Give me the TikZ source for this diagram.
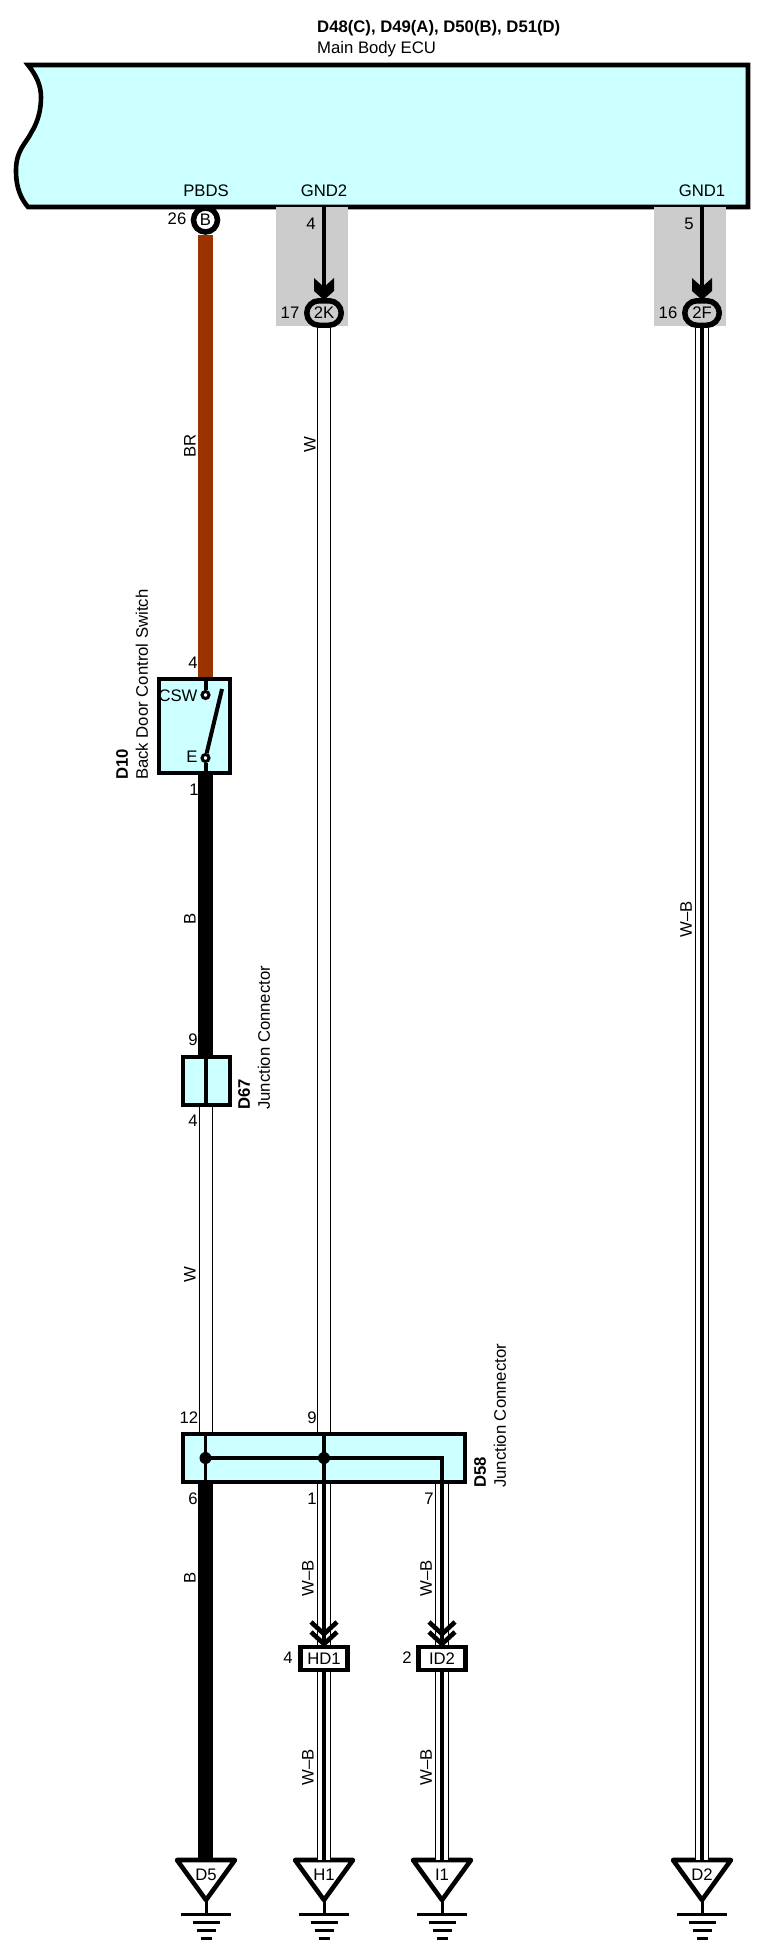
\documentclass[tikz,border=0pt]{standalone}
\usepackage{fontspec}
\setmainfont{Liberation Sans}
\usetikzlibrary{shapes.misc}

\definecolor{ecucyan}{HTML}{CCFFFF}
\definecolor{wirebrown}{HTML}{993300}
\definecolor{shadegray}{HTML}{CCCCCC}

\tikzset{
    every node/.style={font=\fontsize{16.7}{18}\selectfont, inner sep=0pt},
    frame/.style={draw, line width=4.6pt, line join=miter},
    cyanbox/.style={frame, fill=ecucyan, rectangle},
    tagbox/.style={frame, fill=white, rectangle, minimum width=47.5pt, minimum height=23pt},
    oval/.style={frame, line width=5.5pt, fill=shadegray, rounded rectangle, minimum width=34.5pt, minimum height=24.5pt},
    thick wire/.style={line width=15pt},
    thin wire/.style={line width=4pt},
    wirew/.style={line width=14pt, postaction={draw, white, line width=12pt}},
    wirewb/.style={wirew, postaction={draw, black, line width=4pt}},
    inner line/.style={line width=3.5pt},
    sidetext/.style={rotate=90, anchor=west},
    wirename/.style={rotate=90}
}

\begin{document}
\begin{tikzpicture}[x=1pt, y=-1pt]

    \useasboundingbox (0,0) rectangle (762,1953);

    % Main body ECU
    \draw[frame, fill=ecucyan] (28,65) -- (748,65) -- (748,207) -- (28,207)
    .. controls (17,194) and (16,180) .. (16,170)
    .. controls (16,150) and (27,142) .. (31,133)
    .. controls (38,122) and (41,110) .. (41,97)
    .. controls (41,85) and (36,75) .. (28,65) -- cycle;
    \node[anchor=west, font=\fontsize{16.7}{18}\selectfont\bfseries] (ecuid) at (317,28) {D48(C), D49(A), D50(B), D51(D)};
    \node[anchor=west] (ecuname) at (317,49) {Main Body ECU};
    \node (pbds) at (206,191) {PBDS};
    \node (gndtwo) at (324,191) {GND2};
    \node (gndone) at (702,191) {GND1};

    % Shaded in-line connectors
    \fill[shadegray] (276,207) rectangle (348,326);
    \fill[shadegray] (654,207) rectangle (726,326);
    \coordinate (ecugndtwo) at (324,207);
    \coordinate (ecugndone) at (702,207);
    \node[oval] (conk) at (324,313) {2K};
    \node[oval] (conf) at (702,313) {2F};
    \node (pinfour) at (311,224) {4};
    \node (pinfive) at (689,224) {5};
    \node (pinseventeen) at (290,313) {17};
    \node (pinsixteen) at (668,313) {16};

    % Pin B
    \node[frame, line width=5.5pt, circle, fill=white, minimum size=24pt] (conb) at (205.5,220) {B};
    \node (pinsix) at (177,219) {26};

    % Back door control switch
    \node[cyanbox, minimum width=71pt, minimum height=94pt] (swbox) at (194.5,726) {};
    \node[draw, circle, fill=white, line width=3pt, minimum size=7pt] (csw) at (205.5,695) {};
    \node[draw, circle, fill=white, line width=3pt, minimum size=7pt] (gnde) at (205.5,758) {};
    \node (cswname) at (178,696) {CSW};
    \node (ename) at (192,757) {E};
    \node (swfour) at (193,663) {4};
    \node (swone) at (194,790) {1};
    \node[sidetext, font=\fontsize{16.7}{18}\selectfont\bfseries] (swid) at (122,780) {D10};
    \node[sidetext] (swname) at (142,780) {Back Door Control Switch};
    \draw[line width=4pt] (gnde) -- (222,689);
    \draw[line width=4pt] (csw) -- (csw |- swbox.north);
    \draw[line width=4pt] (gnde) -- (gnde |- swbox.south);

    % Junction connector D67
    \node[cyanbox, minimum width=47pt, minimum height=48pt] (jd) at (206.5,1081) {};
    \draw[line width=4pt] (205.5,1057) -- (205.5,1105);
    \node (jdnine) at (193,1040) {9};
    \node (jdfour) at (193,1121) {4};
    \node[sidetext, font=\fontsize{16.7}{18}\selectfont\bfseries] (jdid) at (244,1110) {D67};
    \node[sidetext] (jdname) at (264,1110) {Junction Connector};

    % Junction connector D58
    \node[cyanbox, minimum width=282pt, minimum height=48pt] (je) at (324,1458) {};
    \node (jetwelve) at (189,1418) {12};
    \node (jenine) at (312,1418) {9};
    \node (jesix) at (193,1499) {6};
    \node (jeone) at (312,1499) {1};
    \node (jeseven) at (429,1499) {7};
    \node[sidetext, font=\fontsize{16.7}{18}\selectfont\bfseries] (jeid) at (480,1488) {D58};
    \node[sidetext] (jename) at (500,1488) {Junction Connector};

    % In-line connectors
    \node[tagbox] (hd) at (324,1658.5) {HD1};
    \node[tagbox] (id) at (442,1658.5) {ID2};
    \node (hdfour) at (288,1658) {4};
    \node (idtwo) at (407,1658) {2};

    % Ground points
    \foreach \x/\gname/\gtext in {206/gdfive/D5, 324/ghone/H1, 442/gione/I1, 702/gdtwo/D2}
    {
        \coordinate (\gname) at (\x,1860);
        \draw[frame, fill=white, line join=round] (\x-29,1860) -- (\x+29,1860) -- (\x,1900) -- cycle;
        \node at (\x,1875) {\gtext};
        \draw[line width=3pt] (\x,1900) -- (\x,1914);
        \draw[line width=3pt] (\x-25,1914) -- (\x+25,1914);
        \draw[line width=3pt] (\x-13.5,1922) -- (\x+13.5,1922);
        \draw[line width=3pt] (\x-9.5,1930) -- (\x+9.5,1930);
        \draw[line width=3pt] (\x-5.5,1938) -- (\x+5.5,1938);
    }

    % Wires
    \draw[thick wire, wirebrown] (conb.south) -- (conb.south |- swbox.north);
    \draw[thick wire] (conb.south |- swbox.south) -- (conb.south |- jd.north);
    \draw[wirew] (conb.south |- jd.south) -- (conb.south |- je.north);
    \draw[thick wire] (conb.south |- je.south) -- (conb.south |- gdfive);
    \draw[thin wire] (ecugndtwo) -- (conk.north);
    \draw[thin wire] (ecugndone) -- (conf.north);
    \draw[wirew] (conk.south) -- (conk.south |- je.north);
    \draw[wirewb] (conf.south) -- (gdtwo);
    \draw[wirewb] (conk.south |- je.south) -- (hd.north);
    \draw[wirewb] (hd.south) -- (ghone);
    \draw[wirewb] (id.north |- je.south) -- (id.north);
    \draw[wirewb] (id.south) -- (gione);

    % Arrow heads
    \foreach \x in {324,702}
    {
        \fill (\x-10,278) -- (\x,287) -- (\x+10,278) -- (\x+10,291) -- (\x,300) -- (\x-10,291) -- cycle;
    }
    \foreach \x in {324,442}
    {
        \draw[frame] (\x-13,1622) -- (\x,1634) -- (\x+13,1622);
        \draw[frame] (\x-13,1632) -- (\x,1644) -- (\x+13,1632);
    }

    % Inside D58
    \draw[inner line] (205.5,1434) -- (205.5,1482);
    \draw[inner line] (324,1434) -- (324,1482);
    \draw[inner line] (205.5,1458) -- (442,1458) -- (442,1484);
    \fill (205.5,1458) circle (6);
    \fill (324,1458) circle (6);

    % Wire colours
    \node[wirename] (brname) at (190,446) {BR};
    \node[wirename] (bname) at (190,919) {B};
    \node[wirename] (wname) at (190,1275) {W};
    \node[wirename] (blackname) at (190,1578) {B};
    \node[wirename] (whitename) at (310,445) {W};
    \node[wirename] (wbfname) at (686,919) {W--B};
    \node[wirename] (wbhname) at (308,1578) {W--B};
    \node[wirename] (wbiname) at (426,1578) {W--B};
    \node[wirename] (wbhlow) at (308,1767) {W--B};
    \node[wirename] (wbilow) at (426,1767) {W--B};

\end{tikzpicture}
\end{document}
